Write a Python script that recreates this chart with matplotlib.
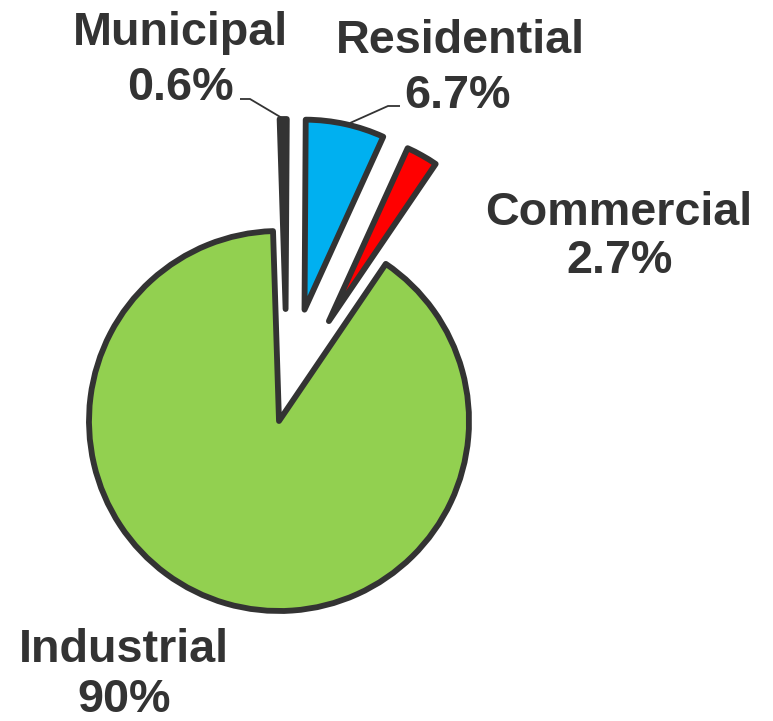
import matplotlib
matplotlib.use("Agg")
import matplotlib.pyplot as plt

# Data
categories = ["Municipal", "Residential", "Commercial", "Industrial"]
values = [0.6, 6.7, 2.7, 90.0]
pct_labels = ["0.6%", "6.7%", "2.7%", "90%"]
colors = ["#333333", "#00B0F0", "#FF0000", "#92D050"]

W, H = 773, 721
fig = plt.figure(figsize=(W / 100, H / 100), dpi=100)
ax = fig.add_axes([0, 0, 1, 1])

def py(y):
    return H - y

radius = 190
center = (279, py(421))
explode = [112, 114, 110, 0]
# small extra offsets (pixels) emulating the reference's explosion layout
nudge = [(8, 0), (1, 0), (-4, 4), (0, 0)]

wedges, _ = ax.pie(values, colors=colors, startangle=91.8, counterclock=False,
                   center=center, radius=radius, explode=explode,
                   wedgeprops=dict(edgecolor="#333333", linewidth=4.2,
                                   joinstyle="round"))
for w, (dx, dy) in zip(wedges, nudge):
    cx, cy = w.center
    w.set_center((cx + dx, cy + dy))

ax.set_xlim(0, W)
ax.set_ylim(0, H)
ax.set_aspect("auto")
ax.axis("off")

txt_color = "#333333"
font = dict(family=["Liberation Sans", "DejaVu Sans"], fontweight="bold",
            fontsize=33.7, color=txt_color, ha="center", va="baseline")

# label layout (pixel positions): name line and percent line
label_pos = {
    "Municipal": ((180, 45), (180, 100)),
    "Residential": ((460, 53), (457, 108)),
    "Commercial": ((619, 225), (619.5, 273)),
    "Industrial": ((124, 662), (124.5, 712)),
}
for cat, pct in zip(categories, pct_labels):
    (x1, y1), (x2, y2) = label_pos[cat]
    ax.text(x1, py(y1), cat, **font)
    ax.text(x2, py(y2), pct, **font)

# leader lines
leaders = [
    [(240, 99), (250, 99), (282, 118)],
    [(400, 106), (388, 106), (350, 123)],
]
for pts in leaders:
    xs = [p[0] for p in pts]
    ys = [py(p[1]) for p in pts]
    ax.plot(xs, ys, color="#333333", lw=1.3, solid_capstyle="butt")

fig.savefig("out.png", dpi=100)
